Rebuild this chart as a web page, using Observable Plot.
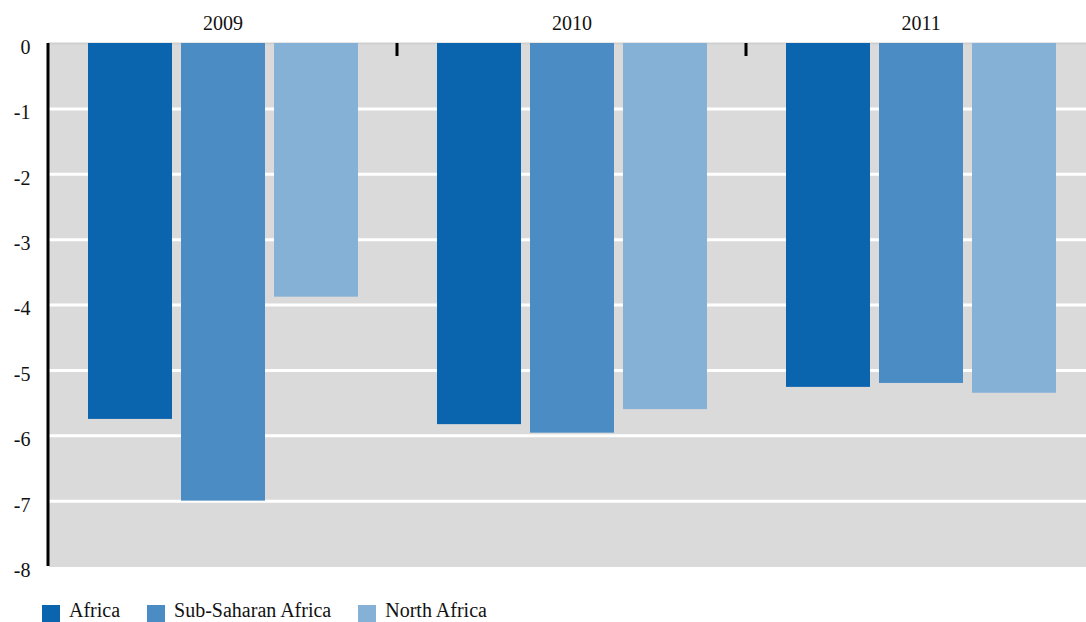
<!DOCTYPE html>
<html><head><meta charset="utf-8">
<script src="https://cdn.jsdelivr.net/npm/d3@7"></script>
<script src="https://cdn.jsdelivr.net/npm/@observablehq/plot@0.6"></script>
<style>
body{margin:0;background:#fff;font-family:"Liberation Serif",serif;}
#wrap{width:1086px;height:622px;overflow:hidden;position:relative;}
#chart{position:absolute;left:0;top:0;}
#chart svg{max-width:none !important;}
#chart svg text{font-family:"Liberation Serif",serif;}
#legend{position:absolute;left:42px;top:599px;display:flex;align-items:flex-start;font-size:20px;color:#111;line-height:22px;}
.item{display:flex;align-items:flex-start;margin-right:27px;}
.sw{width:18px;height:18px;margin-right:9px;margin-top:6px;}
</style></head><body><div id="wrap"><div id="chart"></div><div id="legend"></div></div>
<script>
const years = ["2009", "2010", "2011"];
const series = ["Africa", "Sub-Saharan Africa", "North Africa"];
const africa = [-5.75, -5.83, -5.26];
const subSaharan = [-7.0, -5.96, -5.20];
const northAfrica = [-3.88, -5.60, -5.35];
const colors = ["#0b64ae", "#4a8cc3", "#86b1d7"];
const yTicks = [0, -1, -2, -3, -4, -5, -6, -7, -8];

const seriesValues = [africa, subSaharan, northAfrica];
const data = [];
years.forEach((yr, i) => series.forEach((s, j) => data.push({year: yr, series: s, value: seriesValues[j][i]})));

const plot = Plot.plot({
  width: 1096, height: 590,
  marginLeft: 47, marginRight: 0, marginTop: 43, marginBottom: 24,
  style: {fontFamily: "Liberation Serif, serif", fontSize: "20px", background: "transparent", color: "#111", overflow: "visible", maxWidth: "none"},
  fx: {domain: years, paddingInner: 0, paddingOuter: 0, label: null},
  x: {domain: series, paddingInner: 0.1, paddingOuter: 0.423, axis: null},
  y: {domain: [-8, 0], label: null},
  color: {domain: series, range: colors},
  marks: [
    Plot.frame({fill: "#dadada", stroke: null, shapeRendering: "crispEdges"}),
    Plot.gridY(yTicks.filter(d => d !== 0 && d !== -8), {stroke: "#fff", strokeOpacity: 1, strokeWidth: 3}),
    Plot.gridY([0], {stroke: "#cfcfcf", strokeOpacity: 1, strokeWidth: 2}),
    Plot.barY(data, {fx: "year", x: "series", y: "value", fill: "series"}),
    Plot.axisFx({anchor: "top", tickSize: 0, tickPadding: 14, label: null, fontSize: 20, fontFamily: "Liberation Serif, serif"}),
    Plot.axisY({ticks: yTicks, tickFormat: d => String(d), tickSize: 0, tickPadding: 18, label: null, dy: 4, fontSize: 20, fontFamily: "Liberation Serif, serif"})
  ]
});
document.getElementById("chart").appendChild(plot);

const fx = plot.scale("fx");
const yS = plot.scale("y");
const svg = d3.select(plot);
// y axis line at the left edge of the first group
const x0 = fx.apply(years[0]);
svg.append("line")
  .attr("x1", x0).attr("x2", x0)
  .attr("y1", yS.apply(0)).attr("y2", yS.apply(-8))
  .attr("stroke", "#000").attr("stroke-width", 3);
// separator ticks between year groups
years.slice(1).forEach(yr => {
  const xp = fx.apply(yr);
  svg.append("line")
    .attr("x1", xp).attr("x2", xp)
    .attr("y1", yS.apply(0)).attr("y2", yS.apply(0) + 13)
    .attr("stroke", "#000").attr("stroke-width", 3);
});

const legend = d3.select("#legend");
series.forEach((s, i) => {
  const it = legend.append("div").attr("class", "item");
  it.append("div").attr("class", "sw").style("background", colors[i]);
  it.append("div").attr("class", "lab").text(s);
});
</script></body></html>
